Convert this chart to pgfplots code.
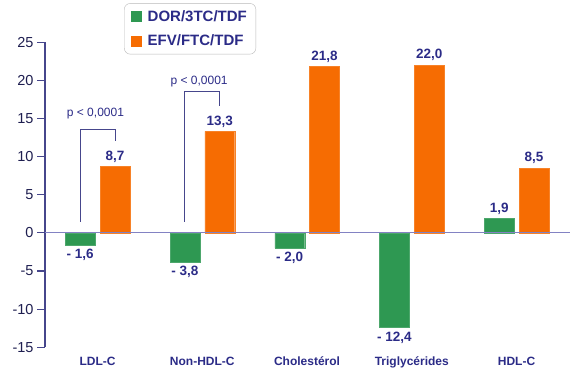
\documentclass[border=0pt]{standalone}
\usepackage{fontspec}
\setmainfont{Liberation Sans}
\usepackage{pgfplots}
\pgfplotsset{compat=1.18}
\definecolor{cgreen}{RGB}{46,152,82}
\definecolor{corange}{RGB}{246,108,2}
\definecolor{navy}{RGB}{43,43,135}
\definecolor{tickcol}{RGB}{30,30,80}
\definecolor{axcol}{RGB}{70,70,140}
\definecolor{zcol}{RGB}{130,130,195}
\begin{document}
\begin{tikzpicture}[x=1pt,y=1pt]
\begin{axis}[at={(43,28.5)}, anchor=south west, scale only axis,
  width=527pt, height=305pt,
  xmin=-0.501, xmax=4.53, ymin=-15, ymax=25,
  ybar, bar width=0.286,
  axis y line*=left, axis x line*=bottom,
  x axis line style={draw=none},
  y axis line style={axcol, line width=1.1pt},
  ytick={-15,-10,...,25},
  tick align=outside, major tick length=8pt,
  ytick style={axcol, line width=1.1pt},
  xtick={0,1,2,3,4}, xtick style={draw=none},
  xticklabels={LDL-C, Non-HDL-C, Cholestérol, Triglycérides, HDL-C},
  xticklabel style={font=\bfseries\fontsize{12}{12}\selectfont, text=navy, yshift=2pt},
  yticklabel style={font=\fontsize{14.5}{14.5}\selectfont, text=tickcol},
  /pgf/number format/assume math mode=true,
  every node near coord/.append style={font=\bfseries\fontsize{13.5}{13.5}\selectfont, text=navy, inner sep=4pt},
  legend style={at={(0.15,1.128)}, anchor=north west, draw=gray!55, rounded corners=6pt,
    font=\bfseries\fontsize{15}{15}\selectfont, text=navy, row sep=8pt,
    inner xsep=7pt, inner ysep=5pt, cells={anchor=west}},
  clip=false,
]
% green, negative values (labels below)
\addplot[fill=cgreen, draw=cgreen!85!white, bar shift=-0.165, forget plot,
  nodes near coords, point meta=explicit symbolic,
  every node near coord/.append style={anchor=north}] table[meta=label, col sep=semicolon] {
x;y;label
0;-1.6;- 1,6
1;-3.8;- 3,8
2;-2.0;- 2,0
3;-12.4;- 12,4
};
% green, positive value
\addplot[fill=cgreen, draw=cgreen!85!white, bar shift=-0.165, forget plot,
  nodes near coords, point meta=explicit symbolic,
  every node near coord/.append style={anchor=south}] table[meta=label, col sep=semicolon] {
x;y;label
4;1.9;1,9
};
\addplot[fill=corange, draw=corange!85!white, bar shift=0.167, forget plot,
  nodes near coords, point meta=explicit symbolic,
  every node near coord/.append style={anchor=south}] table[meta=label, col sep=semicolon] {
x;y;label
0;8.7;8,7
1;13.3;13,3
2;21.8;21,8
3;22.0;22,0
4;8.5;8,5
};
\addlegendimage{legend image code/.code={\fill[cgreen, sharp corners] (0pt,-5pt) rectangle (10pt,5pt); \path (14pt,0pt);}}
\addlegendentry{DOR/3TC/TDF}
\addlegendimage{legend image code/.code={\fill[corange, sharp corners] (0pt,-5pt) rectangle (10pt,5pt); \path (14pt,0pt);}}
\addlegendentry{EFV/FTC/TDF}
\draw[zcol, line width=1pt] (axis cs:-0.501,0) -- (axis cs:4.53,0);
\addplot[sharp plot, no marks, axcol, line width=1pt, forget plot] coordinates {(-0.165,1.45) (-0.165,13.55) (0.167,13.55) (0.167,12.0)};
\addplot[sharp plot, no marks, axcol, line width=1pt, forget plot] coordinates {(0.835,1.45) (0.835,18.5) (1.167,18.5) (1.167,16.7)};
\node[font=\fontsize{12}{12}\selectfont, text=navy] at (axis cs:-0.02,15.6) {p < 0,0001};
\node[font=\fontsize{12}{12}\selectfont, text=navy] at (axis cs:0.97,19.9) {p < 0,0001};
\end{axis}
\pgfresetboundingbox
\path[use as bounding box] (0,0) rectangle (570,369);
\end{tikzpicture}
\end{document}
